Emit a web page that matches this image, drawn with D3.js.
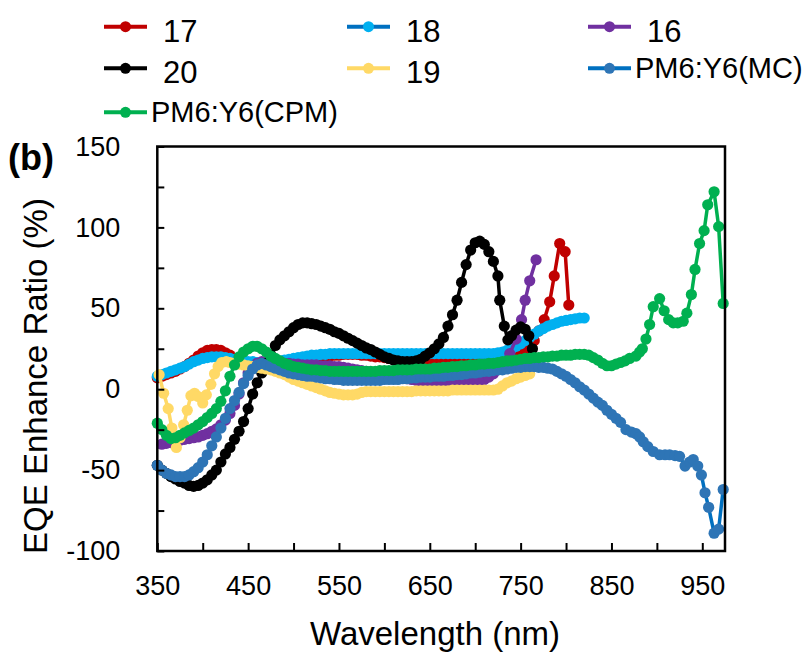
<!DOCTYPE html>
<html><head><meta charset="utf-8">
<script src="https://cdn.jsdelivr.net/npm/d3@7"></script>
<style>
html,body{margin:0;padding:0;background:#fff;}
svg text{font-family:"Liberation Sans",Arial,sans-serif;fill:#000;}
</style></head>
<body><svg id="chart" width="806" height="657"></svg>
<script>
// ---------- data ----------
const seriesNames = ["17","18","16","20","19","PM6:Y6(MC)","PM6:Y6(CPM)"];
const lineColors   = ["#C00000","#0070C0","#7030A0","#000000","#FFD966","#0070C0","#00B050"];
const markerColors = ["#C00000","#00B0F0","#7030A0","#000000","#FFD966","#2E75B6","#00B050"];
const xTickValues = [350,400,450,500,550,600,650,700,750,800,850,900,950];
const xTickLabels = [350,450,550,650,750,850,950];
const yTickValues = [-100,-75,-50,-25,0,25,50,75,100,125,150];
const yTickLabels = [-100,-50,0,50,100,150];

const s17 = [[350,7],[355,8],[360,9],[365,10],[370,11],[375,12.5],[380,14],[385,16],[390,18],[395,20.5],[400,22.5],[405,24],[410,24.5],[415,24.5],[420,24],[425,22.5],[430,21],[435,19],[440,17.5],[445,16.5],[450,16],[455,15.5],[460,15.5],[465,15.5],[470,15.5],[475,16],[480,16],[485,16.5],[490,17],[495,17.5],[500,18],[505,18.5],[510,18.5],[515,19],[520,19.5],[525,19.5],[530,20],[535,20.5],[540,20.5],[545,21],[550,21],[555,21.5],[560,21.5],[565,21.5],[570,21.5],[575,21],[580,21],[585,20.5],[590,20],[595,20],[600,19.5],[605,19],[610,19],[615,18.5],[620,18.5],[625,18],[630,18],[635,18],[640,18],[645,18],[650,18],[655,18.5],[660,18.5],[665,18.5],[670,19],[675,19],[680,19],[685,19.5],[690,19.5],[695,20],[700,20],[705,20],[710,20.5],[715,21],[720,21],[725,21],[730,21.5],[735,22],[740,22],[745,22.5],[750,23],[755,24],[760,25],[765,30],[770,36],[776,43],[782,54],[787,70],[793,90],[799,85],[803,52]];
const s18 = [[350,8],[355,9],[360,10],[365,11],[370,12],[375,13],[380,14],[385,15.5],[390,17],[395,18],[400,19],[405,19.5],[410,20],[415,20],[420,20],[425,19.5],[430,19],[435,18.5],[440,18],[445,17.5],[450,17],[455,17],[460,16.5],[465,16.5],[470,16.5],[475,17],[480,17],[485,17.5],[490,18],[495,18.5],[500,19],[505,19.5],[510,20],[515,20.5],[520,21],[525,21],[530,21.5],[535,21.5],[540,22],[545,22],[550,22],[555,22],[560,22],[565,22],[570,22],[575,22],[580,22],[585,22],[590,22],[595,22],[600,22],[605,22],[610,22],[615,22],[620,22],[625,22],[630,22],[635,22],[640,22],[645,22],[650,22],[655,22],[660,22],[665,22],[670,22],[675,22],[680,22],[685,22],[690,22],[695,22],[700,22],[705,22],[710,22],[715,22],[720,22],[725,22.5],[730,23],[735,24],[740,25],[745,26.5],[750,28],[755,30],[760,32],[765,34],[770,36],[775,37.5],[780,39],[785,40],[790,41],[795,42],[800,42.5],[805,43],[810,43.5],[815,44],[820,44]];
const s16 = [[355,-34],[360,-33.5],[365,-33],[370,-32],[375,-31.5],[380,-31],[385,-30.5],[390,-30],[395,-29.5],[400,-28.5],[405,-27.5],[410,-26],[415,-24.5],[420,-22],[425,-19],[430,-15],[435,-10],[440,-3],[445,4],[450,10],[455,14],[460,16],[465,17],[470,17],[475,17],[480,16.5],[485,16.5],[490,16],[495,16],[500,15.5],[505,15.5],[510,15],[515,15],[520,15],[525,15],[530,14.5],[535,14.5],[540,14.5],[545,14],[550,14],[555,13.5],[560,13],[565,12.5],[570,12],[575,11.5],[580,11],[585,10.5],[590,10],[595,9.5],[600,9],[605,8.5],[610,8],[615,7.5],[620,7],[625,6.5],[630,6],[635,5.5],[640,5],[645,5],[650,4.5],[655,4.5],[660,4.5],[665,4.5],[670,4.5],[675,4.5],[680,4.5],[685,4.5],[690,4.5],[695,4.5],[700,4.5],[705,5],[710,6],[715,7.5],[720,9.5],[725,12],[731,16],[738,22],[745,31],[751,43],[755,55],[760,67],[767,80]];
const s20 = [[350,-47],[355,-50],[360,-52],[365,-54],[370,-55.5],[375,-57],[380,-58],[385,-59.5],[390,-60],[395,-59.5],[400,-58],[405,-56],[410,-53],[415,-50],[420,-45],[425,-40],[430,-36],[435,-31],[440,-26],[445,-20],[450,-12],[455,-3],[460,4],[465,10],[470,16],[475,21],[480,27],[485,30.5],[490,33],[495,35.5],[500,38],[505,40],[510,41],[515,41],[520,40.5],[525,40],[530,39],[535,38],[540,37],[545,35.5],[550,34.5],[555,33],[560,31.5],[565,30],[570,28.5],[575,27],[580,25.5],[585,24.5],[590,23],[595,21.5],[600,20],[605,19],[610,18],[615,17.5],[620,17],[625,17],[630,17],[635,17.5],[640,18.5],[645,20.5],[650,22.5],[655,25],[660,28],[665,32],[670,39],[675,46],[680,55],[685,66],[690,77],[695,86],[700,90.5],[705,91.5],[710,89.5],[715,85],[720,79],[725,70],[727,55],[732,39],[736,30.5],[740,33],[745,36.5],[750,38.5],[755,37],[759,33],[763,25]];
const s19 = [[352,9],[357,-2.5],[362,-12],[366,-24],[371,-36],[375,-30],[379,-22],[383,-13],[387,-4],[391,-2.5],[395,-4.5],[400,-8.5],[404,-3.5],[409,3],[413,9.5],[417,14],[421,16.5],[426,17],[430,16.5],[435,16],[440,15.5],[445,15],[450,14.5],[455,14],[460,13.5],[465,13],[470,12.5],[475,12],[480,11],[485,10],[490,9],[495,7.5],[500,6],[505,5],[510,4],[515,3],[520,2],[525,1],[530,0],[535,-1],[540,-2],[545,-2.5],[550,-3],[555,-3.5],[560,-3.5],[565,-3.5],[570,-3],[575,-2],[580,-1.5],[585,-1.5],[590,-1.5],[595,-1.5],[600,-1.5],[605,-1.5],[610,-1.5],[615,-1.5],[620,-1.5],[625,-1.5],[630,-1.5],[635,-1],[640,-1],[645,-1],[650,-1],[655,-1],[660,-1],[665,-1],[670,-1],[675,-0.5],[680,-0.5],[685,-0.5],[690,-0.5],[695,-0.5],[700,-0.5],[705,-0.5],[710,-0.5],[715,-0.5],[720,-0.5],[725,0],[730,2],[735,4],[740,5],[745,6.5],[750,7.5],[755,8.5],[760,9.5]];
const sMC = [[350,-47],[355,-50],[360,-52],[365,-53],[370,-54],[375,-54],[380,-54],[385,-53],[390,-51],[395,-48.5],[400,-45],[405,-40.5],[410,-35],[415,-29.5],[420,-24],[425,-18],[430,-12],[435,-7],[440,-2],[445,3.5],[450,8.5],[455,12.5],[460,15],[465,16],[470,15],[475,14],[480,13],[485,12],[490,11],[495,10],[500,9.5],[505,9],[510,8.5],[515,8],[520,8],[525,7.5],[530,7],[535,6.5],[540,6.5],[545,6],[550,6],[555,5.5],[560,5.5],[565,5.5],[570,5.5],[575,5.5],[580,5.5],[585,5.5],[590,5.5],[595,5.5],[600,6],[605,6],[610,6],[615,6],[620,6.5],[625,6.5],[630,7],[635,7],[640,7.5],[645,7.5],[650,7.5],[655,8],[660,8],[665,8],[670,8.5],[675,8.5],[680,9],[685,9],[690,9.5],[695,10],[700,10],[705,10.5],[710,11],[715,11],[720,11.5],[725,12],[730,12],[735,12.5],[740,13],[745,13.5],[750,13.5],[755,14],[760,14],[765,14],[770,13.5],[775,13.5],[780,13],[785,12.5],[790,11],[795,9.5],[800,8],[805,6],[810,4],[815,1.5],[820,-0.5],[825,-3],[830,-5.5],[835,-8],[840,-10],[845,-13],[850,-15.5],[855,-18],[860,-20.5],[866,-25],[872,-26.5],[877,-27.5],[881,-29.5],[885,-32.5],[890,-35.5],[896,-38.5],[903,-40.5],[909,-40.5],[914,-40.5],[920,-41],[925,-41.5],[931,-47.5],[936,-45],[940,-43.5],[945,-47.5],[949,-53],[953,-64],[957,-73],[963,-89],[968,-86.5],[973,-62]];
const sCPM = [[350,-21],[355,-25],[360,-28.5],[365,-30.5],[370,-30],[375,-28.5],[380,-27],[385,-25.5],[390,-24],[395,-22],[400,-20],[405,-17.5],[410,-15],[415,-12],[420,-7.5],[425,-1],[430,8],[435,15],[440,20],[445,23],[450,25],[455,26.5],[460,26.5],[465,25],[470,23],[475,20.5],[480,19],[485,17.5],[490,16],[495,15],[500,14],[505,13.5],[510,13],[515,12.5],[520,12],[525,12],[530,11.5],[535,11.5],[540,11],[545,11],[550,11],[555,11],[560,11],[565,11],[570,11],[575,11],[580,11],[585,11],[590,11],[595,11.5],[600,11.5],[605,11.5],[610,11.5],[615,12],[620,12],[625,12],[630,12],[635,12.5],[640,12.5],[645,12.5],[650,12.5],[655,13],[660,13],[665,13.5],[670,13.5],[675,14],[680,14],[685,14.5],[690,14.5],[695,15],[700,15],[705,15.5],[710,15.5],[715,16],[720,16],[725,16.5],[730,17],[735,17.5],[740,17.5],[745,18],[750,18.5],[755,19],[760,19],[765,19.5],[770,19.5],[775,20],[780,20],[785,20.5],[790,20.5],[795,21],[800,21],[805,21],[810,21.5],[815,21.5],[820,21.5],[825,21],[830,19.5],[835,18],[840,16],[845,14.5],[850,14.5],[855,15.5],[860,16.5],[865,17.5],[870,19],[877,20.5],[881,23],[884,25],[888,31],[892,40],[896,51],[903,56],[908,48.5],[913,43],[918,41],[923,41],[929,42],[933,47],[938,58.5],[942,74],[947,90],[952,98],[956,114],[963,122],[968,100.5],[973,53]];
const allSeries = [s17,s18,s16,s20,s19,sMC,sCPM];

// ---------- layout ----------
const svg = d3.select("#chart");
const x = d3.scaleLinear().domain([350,975]).range([157.3,725]);
const y = d3.scaleLinear().domain([-100,150]).range([551,146.5]);

// series
const line = d3.line().x(d=>x(d[0])).y(d=>y(d[1]));
allSeries.forEach((s,i)=>{
  const g = svg.append("g");
  g.append("path").datum(s).attr("d",line).attr("fill","none")
    .attr("stroke",lineColors[i]).attr("stroke-width",3.5).attr("stroke-linejoin","round");
  g.selectAll("circle").data(s).join("circle")
    .attr("cx",d=>x(d[0])).attr("cy",d=>y(d[1])).attr("r",5.6)
    .attr("fill",markerColors[i]);
});

// axes
const xAxis = d3.axisBottom(x).tickValues(xTickValues).tickSize(-8).tickSizeOuter(0).tickPadding(25)
  .tickFormat(d=>xTickLabels.includes(d)?String(d):"");
const gx = svg.append("g").attr("transform","translate(0,551)").call(xAxis);
const yAxis = d3.axisLeft(y).tickValues(yTickValues).tickSize(-7).tickSizeOuter(0).tickPadding(37)
  .tickFormat(d=>yTickLabels.includes(d)?String(d):"");
const gy = svg.append("g").attr("transform","translate(157.3,0)").call(yAxis);
[gx,gy].forEach(g=>{
  g.select(".domain").remove();
  g.selectAll(".tick line").attr("stroke","#000").attr("stroke-width",2);
  g.selectAll(".tick text").attr("font-size",27).attr("font-family","Liberation Sans, Arial, sans-serif").attr("fill","#000");
});
svg.append("rect").attr("x",x(350)).attr("y",y(150)).attr("width",x(975)-x(350)).attr("height",y(-100)-y(150))
  .attr("fill","none").attr("stroke","#000").attr("stroke-width",2.5);

// titles
svg.append("text").attr("x",435).attr("y",645).attr("text-anchor","middle").attr("font-size",33).text("Wavelength (nm)");
svg.append("text").attr("transform","translate(47,376) rotate(-90)").attr("text-anchor","middle").attr("font-size",33).text("EQE Enhance Ratio (%)");
svg.append("text").attr("x",8).attr("y",170).attr("font-size",36).attr("font-weight","bold").text("(b)");

// legend
const legendCols = [104,347,588,104,347,588,104];
const legendRows = [26.7,26.7,26.7,68.3,68.3,68.3,112.3];
seriesNames.forEach((n,i)=>{
  const lx = legendCols[i], ly = legendRows[i];
  const g = svg.append("g");
  g.append("line").attr("x1",lx).attr("x2",lx+43).attr("y1",ly).attr("y2",ly)
    .attr("stroke",lineColors[i]).attr("stroke-width",4);
  g.append("circle").attr("cx",lx+21.5).attr("cy",ly).attr("r",5.5).attr("fill",markerColors[i]);
  const isNum = n.length<=2;
  g.append("text").attr("x",lx+(isNum?59:47)).attr("y",ly+(isNum?15:9.5))
    .attr("font-size",isNum?31:29).text(n);
});
</script></body></html>
